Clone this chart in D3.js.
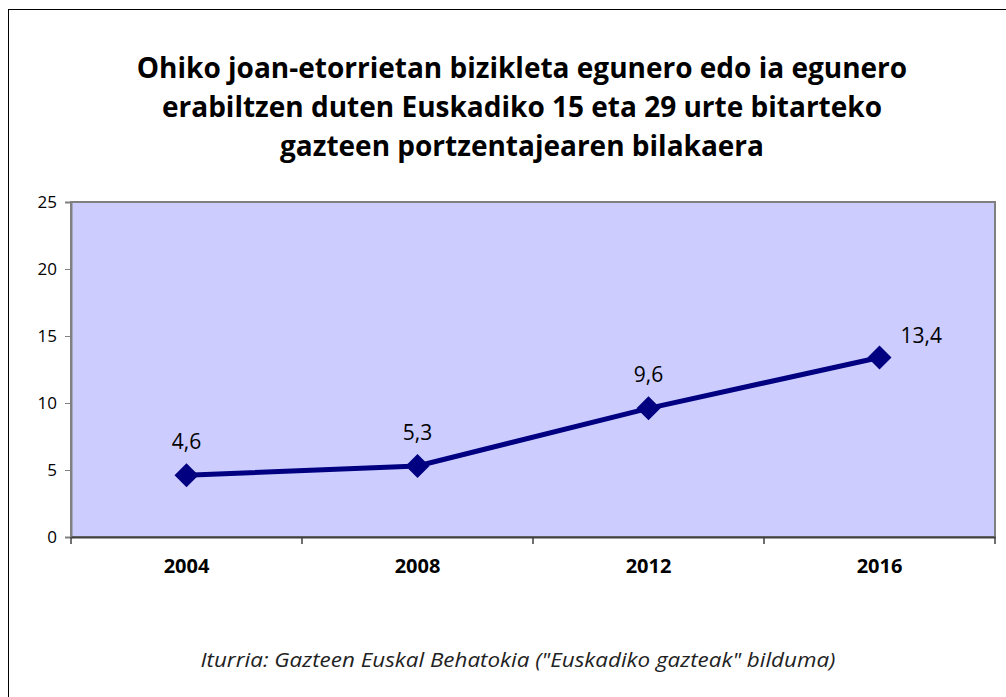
<!DOCTYPE html>
<html>
<head>
<meta charset="utf-8">
<script src="https://cdn.jsdelivr.net/npm/d3@7"></script>
<style>
  body { margin: 0; background: #fff; }
  svg { display: block; }
</style>
</head>
<body>
<div id="chart"></div>
<script>
const years = ["2004", "2008", "2012", "2016"];
const values = [4.6, 5.3, 9.6, 13.4];
const yTicks = [0, 5, 10, 15, 20, 25];
const titleLines = [
  "Ohiko joan-etorrietan bizikleta egunero edo ia egunero",
  "erabiltzen duten Euskadiko 15 eta 29 urte bitarteko",
  "gazteen portzentajearen bilakaera"
];
const source = "Iturria: Gazteen Euskal Behatokia (\"Euskadiko gazteak\" bilduma)";

const W = 1006, H = 697;
const plot = { left: 71, top: 202, right: 995, bottom: 537 };

const svg = d3.select("#chart").append("svg")
  .attr("width", W)
  .attr("height", H);

// outer frame
svg.append("rect")
  .attr("x", 8.5).attr("y", 9.5)
  .attr("width", W + 10).attr("height", H + 10)
  .attr("fill", "#fff")
  .attr("stroke", "#000")
  .attr("stroke-width", 1);

// title
svg.append("text")
  .attr("text-anchor", "middle")
  .attr("font-family", "'Open Sans', sans-serif")
  .attr("font-weight", "bold")
  .attr("font-size", "28px")
  .attr("fill", "#000")
  .selectAll("tspan")
  .data(titleLines)
  .enter()
  .append("tspan")
  .attr("x", 522)
  .attr("y", (d, i) => 78 + i * 39)
  .text(d => d);

const x = d3.scaleBand().domain(years).range([plot.left, plot.right]);
const y = d3.scaleLinear().domain([0, 25]).range([plot.bottom, plot.top]);

// plot area
svg.append("rect")
  .attr("x", plot.left)
  .attr("y", plot.top)
  .attr("width", plot.right - plot.left)
  .attr("height", plot.bottom - plot.top)
  .attr("fill", "#CCCCFF")
  .attr("stroke", "#808080")
  .attr("stroke-width", 2);

// y axis
const yAxis = svg.append("g")
  .attr("transform", `translate(${plot.left},0)`)
  .call(d3.axisLeft(y).tickValues(yTicks).tickSize(6).tickPadding(8).tickFormat(d3.format("d")));
yAxis.select(".domain").attr("stroke", "#808080").attr("stroke-width", 2);
yAxis.selectAll(".tick line").attr("stroke", "#808080");
yAxis.selectAll(".tick text")
  .attr("font-family", "'Open Sans', sans-serif")
  .attr("font-size", "17px")
  .attr("fill", "#000");

// x axis
const xAxis = svg.append("g")
  .attr("transform", `translate(0,${plot.bottom})`)
  .call(d3.axisBottom(x).tickSize(0).tickPadding(22));
xAxis.select(".domain").attr("stroke", "#404040").attr("stroke-width", 2);
xAxis.selectAll(".tick text")
  .attr("font-family", "'Open Sans', sans-serif")
  .attr("font-weight", "bold")
  .attr("font-size", "20px")
  .attr("fill", "#000");

// category separators below the axis
const bounds = years.map(d => x(d)).concat([plot.right]);
svg.append("g")
  .selectAll("line")
  .data(bounds)
  .enter()
  .append("line")
  .attr("x1", d => d).attr("x2", d => d)
  .attr("y1", plot.bottom).attr("y2", plot.bottom + 7)
  .attr("stroke", "#404040")
  .attr("stroke-width", 1.5);

const cx = d => x(d) + x.bandwidth() / 2;
const data = years.map((yr, i) => ({ year: yr, value: values[i] }));

svg.append("path")
  .datum(data)
  .attr("fill", "none")
  .attr("stroke", "#000080")
  .attr("stroke-width", 5)
  .attr("d", d3.line().x(d => cx(d.year)).y(d => y(d.value)));

svg.selectAll(".marker")
  .data(data)
  .enter()
  .append("path")
  .attr("class", "marker")
  .attr("transform", d => `translate(${cx(d.year)},${y(d.value)})`)
  .attr("d", "M0,-12L12,0L0,12L-12,0Z")
  .attr("fill", "#000080");

// value labels
svg.selectAll(".label")
  .data(data)
  .enter()
  .append("text")
  .attr("class", "label")
  .attr("x", (d, i) => i === data.length - 1 ? cx(d.year) + 21 : cx(d.year))
  .attr("y", (d, i) => i === data.length - 1 ? y(d.value) - 14 : y(d.value) - 26)
  .attr("text-anchor", (d, i) => i === data.length - 1 ? "start" : "middle")
  .attr("font-family", "'Open Sans', sans-serif")
  .attr("font-size", "21px")
  .attr("fill", "#000")
  .text(d => String(d.value).replace(".", ","));

// source
svg.append("text")
  .attr("x", 518)
  .attr("y", 667)
  .attr("text-anchor", "middle")
  .attr("font-family", "'Open Sans', sans-serif")
  .attr("font-style", "italic")
  .attr("font-size", "20px")
  .attr("textLength", 635)
  .attr("lengthAdjust", "spacingAndGlyphs")
  .attr("fill", "#222")
  .text(source);
</script>
</body>
</html>
